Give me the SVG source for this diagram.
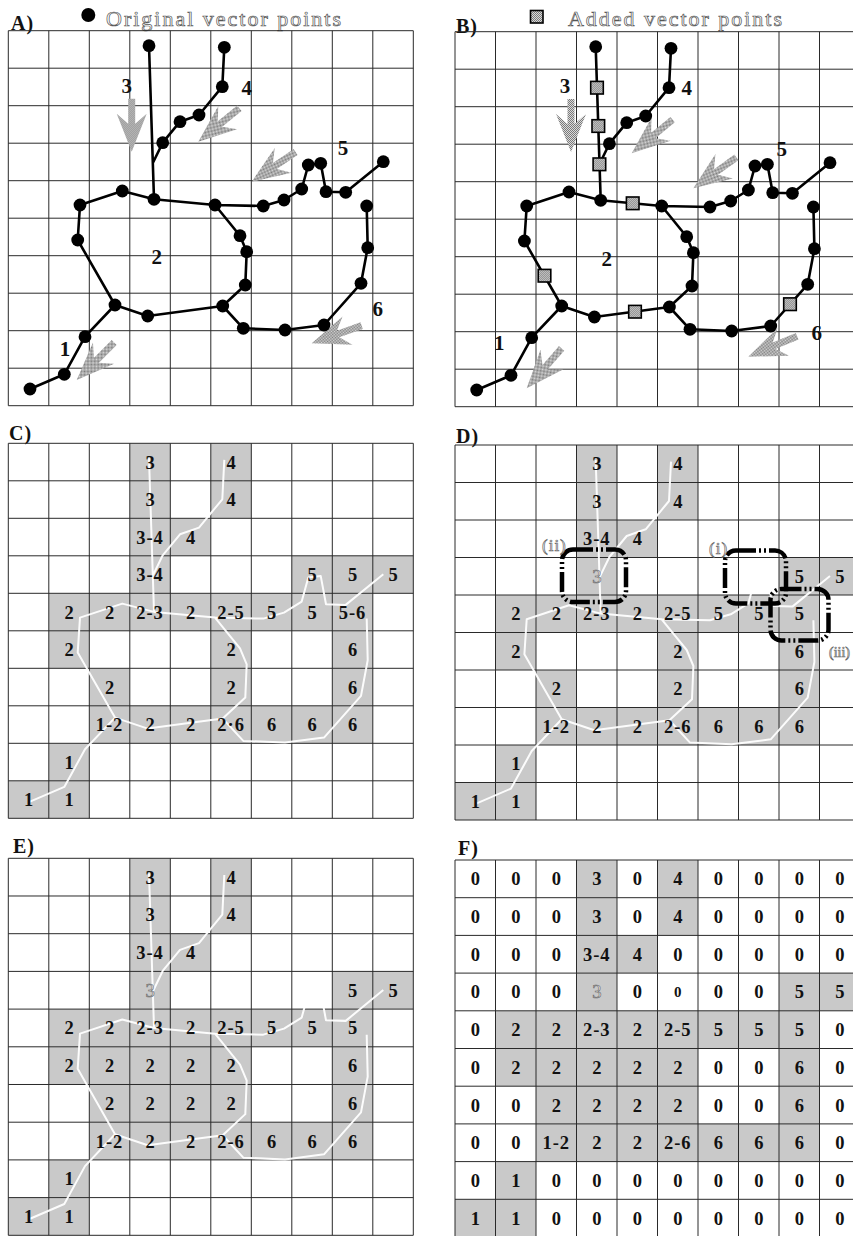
<svg xmlns="http://www.w3.org/2000/svg" xmlns:xlink="http://www.w3.org/1999/xlink" width="853" height="1236" viewBox="0 0 853 1236">
<style>
.bg{fill:#fff}
.grid{fill:none;stroke:#2a2a2a;stroke-width:1}
.sh{fill:#c9c9c9}
.t{font-family:"Liberation Serif",serif;font-weight:bold;font-size:18.5px;text-anchor:middle;fill:#111}
.tw{letter-spacing:1px}
.hol{font-family:"Liberation Serif",serif;font-size:18.5px;text-anchor:middle;fill:#e8e8e8;stroke:#666;stroke-width:0.6}
.rom{font-family:"Liberation Serif",serif;font-size:17px;fill:#fff;stroke:#666;stroke-width:0.7;letter-spacing:1px}
.lbl{font-family:"Liberation Serif",serif;font-weight:bold;font-size:20px;fill:#111;letter-spacing:1px}
.num{font-family:"Liberation Serif",serif;font-weight:bold;font-size:21px;text-anchor:middle;fill:#111}
.net{fill:none;stroke:#000;stroke-width:2.6;stroke-linejoin:round}
.wnet{fill:none;stroke:#fff;stroke-width:2;stroke-linejoin:round;opacity:0.95}
.dot{fill:#000}
.sq{fill:url(#dith);stroke:#000;stroke-width:1.6}
.arr{fill:url(#dith)}
.box{fill:none;stroke:#000;stroke-width:4.5;stroke-dasharray:20 3 2 3 2 3}
.legend{font-family:"Liberation Serif",serif;font-size:22px;fill:#fff;stroke:#555;stroke-width:0.7}
</style>
<defs>
<pattern id="dith" width="2" height="2" patternUnits="userSpaceOnUse"><rect width="2" height="2" fill="#dadada"/><rect width="1" height="1" fill="#7a7a7a"/><rect x="1" y="1" width="1" height="1" fill="#7a7a7a"/></pattern>
<path id="gridA" d="M0,0V375M40.5,0V375M81,0V375M121.5,0V375M162,0V375M202.5,0V375M243,0V375M283.5,0V375M324,0V375M364.5,0V375M405,0V375M0,0H405M0,37.5H405M0,75H405M0,112.5H405M0,150H405M0,187.5H405M0,225H405M0,262.5H405M0,300H405M0,337.5H405M0,375H405"/>
<path id="gridE" d="M0,0V377M40.5,0V377M81,0V377M121.5,0V377M162,0V377M202.5,0V377M243,0V377M283.5,0V377M324,0V377M364.5,0V377M405,0V377M0,0H405M0,37.7H405M0,75.4H405M0,113.1H405M0,150.8H405M0,188.5H405M0,226.2H405M0,263.9H405M0,301.6H405M0,339.3H405M0,377H405"/>
<path id="netp" d="M21.7,358.3 L56,343.6 L76.7,306 L106.7,274.3 L69.4,209.3 L71.7,174.3 L114,160.3 L145.7,168.6 L206.7,174.3 L231.7,205 L238.4,221 L237,254.3 L214.4,275.3 L139.4,285.3 L106.7,274.3 M140.7,15 L145.7,168.6 M216,16.6 L214,56 L190.7,84.3 L171.7,91 L154.4,112 L144.4,132.6 M206.7,174.3 L255,175.3 L275.7,169.3 L293.4,158.3 L300,134.3 L312.4,132.6 L317.7,161 L337.4,161.6 L375,131 M214.4,275.3 L235,297.6 L276.7,299.3 L315.7,294.3 L352.7,252.6 L359.4,217 L358.4,175.3"/>
<polygon id="arrow" points="0,0 -38,-15 -28,-3.5 -53,-3.5 -53,3.5 -28,3.5 -38,15"/>
<g id="dots" class="dot">
<circle cx="140.7" cy="15" r="6.4"/><circle cx="216" cy="16.6" r="6.4"/><circle cx="214" cy="56" r="6.4"/><circle cx="190.7" cy="84.3" r="6.4"/><circle cx="171.7" cy="91" r="6.4"/><circle cx="154.4" cy="112" r="6.4"/><circle cx="114" cy="160.3" r="6.4"/><circle cx="145.7" cy="168.6" r="6.4"/><circle cx="71.7" cy="174.3" r="6.4"/><circle cx="206.7" cy="174.3" r="6.4"/><circle cx="255" cy="175.3" r="6.4"/><circle cx="275.7" cy="169.3" r="6.4"/><circle cx="293.4" cy="158.3" r="6.4"/><circle cx="300" cy="134.3" r="6.4"/><circle cx="312.4" cy="132.6" r="6.4"/><circle cx="317.7" cy="161" r="6.4"/><circle cx="337.4" cy="161.6" r="6.4"/><circle cx="375" cy="131" r="6.4"/><circle cx="358.4" cy="175.3" r="6.4"/><circle cx="69.4" cy="209.3" r="6.4"/><circle cx="106.7" cy="274.3" r="6.4"/><circle cx="76.7" cy="306" r="6.4"/><circle cx="56" cy="343.6" r="6.4"/><circle cx="21.7" cy="358.3" r="6.4"/><circle cx="139.4" cy="285.3" r="6.4"/><circle cx="214.4" cy="275.3" r="6.4"/><circle cx="237" cy="254.3" r="6.4"/><circle cx="238.4" cy="221" r="6.4"/><circle cx="231.7" cy="205" r="6.4"/><circle cx="235" cy="297.6" r="6.4"/><circle cx="276.7" cy="299.3" r="6.4"/><circle cx="315.7" cy="294.3" r="6.4"/><circle cx="352.7" cy="252.6" r="6.4"/><circle cx="359.4" cy="217" r="6.4"/>
</g>
</defs>
<rect class="bg" x="0" y="0" width="853" height="1236"/>

<!-- Panel A -->
<g id="panelA">
<text class="lbl" x="11" y="30">A)</text>
<circle class="dot" cx="88.3" cy="15" r="7"/>
<text class="legend" x="106" y="26" textLength="235" lengthAdjust="spacing">Original vector points</text>
<g transform="translate(8.3,30.7)">
<use href="#gridA" class="grid"/>
<g id="arrowsA" class="arr">
<use href="#arrow" transform="translate(123.4,121) rotate(90)"/>
<use href="#arrow" transform="translate(190,111) rotate(140.8)"/>
<use href="#arrow" transform="translate(243.4,151) rotate(145.9)"/>
<use href="#arrow" transform="translate(68.4,349.3) rotate(135)"/>
<use href="#arrow" transform="translate(303.4,312.6) rotate(160.5)"/>
</g>
<g id="connectorsA"><use href="#netp" class="net"/></g>
<g id="pointsA"><use href="#dots"/></g>
<text class="num" x="118.4" y="62.5">3</text>
<text class="num" x="238.4" y="64.5">4</text>
<text class="num" x="334.7" y="124.5">5</text>
<text class="num" x="148.4" y="233.5">2</text>
<text class="num" x="369.4" y="285.5">6</text>
<text class="num" x="56.7" y="325.5">1</text>
</g>
</g>

<!-- Panel B -->
<g id="panelB">
<text class="lbl" x="456" y="33">B)</text>
<rect class="sq" x="530.5" y="10.5" width="12.5" height="12.5"/>
<text class="legend" x="568" y="26" textLength="214" lengthAdjust="spacing">Added vector points</text>
<g transform="translate(455,31.7)">
<use href="#gridA" class="grid"/>
<g id="arrowsB" class="arr">
<use href="#arrow" transform="translate(116,120.3) rotate(90)"/>
<use href="#arrow" transform="translate(176.7,121.6) rotate(140.6)"/>
<use href="#arrow" transform="translate(238.3,156.6) rotate(144.4)"/>
<use href="#arrow" transform="translate(71.7,356.6) rotate(131.2)"/>
<use href="#arrow" transform="translate(293.3,325) rotate(157.2)"/>
</g>
<g id="connectorsB"><use href="#netp" class="net"/></g>
<g id="pointsB"><use href="#dots"/>
<rect class="sq" x="135.7" y="49.7" width="12.6" height="12.6"/>
<rect class="sq" x="137" y="88" width="12.6" height="12.6"/>
<rect class="sq" x="138.1" y="126.3" width="12.6" height="12.6"/>
<rect class="sq" x="171.4" y="165.3" width="12.6" height="12.6"/>
<rect class="sq" x="83.2" y="237.7" width="12.6" height="12.6"/>
<rect class="sq" x="173.7" y="273.7" width="12.6" height="12.6"/>
<rect class="sq" x="328.7" y="266.2" width="12.6" height="12.6"/>
</g>
<text class="num" x="110" y="61.5">3</text>
<text class="num" x="231.7" y="63.5">4</text>
<text class="num" x="326.7" y="124.5">5</text>
<text class="num" x="151.7" y="234.5">2</text>
<text class="num" x="361.7" y="308.5">6</text>
<text class="num" x="44.3" y="318.5">1</text>
</g>
</g>

<!-- Panel C -->
<g id="panelC">
<text class="lbl" x="9" y="440">C)</text>
<g transform="translate(8.3,443.3)">
<g class="sh">
<rect x="121.5" y="0" width="40.5" height="37.5"/><rect x="202.5" y="0" width="40.5" height="37.5"/>
<rect x="121.5" y="37.5" width="40.5" height="37.5"/><rect x="202.5" y="37.5" width="40.5" height="37.5"/>
<rect x="121.5" y="75" width="81" height="37.5"/>
<rect x="121.5" y="112.5" width="40.5" height="37.5"/><rect x="283.5" y="112.5" width="121.5" height="37.5"/>
<rect x="40.5" y="150" width="324" height="37.5"/>
<rect x="40.5" y="187.5" width="40.5" height="37.5"/><rect x="202.5" y="187.5" width="40.5" height="37.5"/><rect x="324" y="187.5" width="40.5" height="37.5"/>
<rect x="81" y="225" width="40.5" height="37.5"/><rect x="202.5" y="225" width="40.5" height="37.5"/><rect x="324" y="225" width="40.5" height="37.5"/>
<rect x="81" y="262.5" width="283.5" height="37.5"/>
<rect x="40.5" y="300" width="40.5" height="37.5"/>
<rect x="0" y="337.5" width="81" height="37.5"/>
</g>
<use href="#gridA" class="grid"/>
<g id="connectorsC"><use href="#netp" class="wnet"/></g>
<g class="t">
<text x="141.75" y="25.25">3</text><text x="222.75" y="25.25">4</text>
<text x="141.75" y="62.75">3</text><text x="222.75" y="62.75">4</text>
<text class="tw" x="141.75" y="100.25">3-4</text><text x="182.25" y="100.25">4</text>
<text class="tw" x="141.75" y="137.75">3-4</text><text x="303.75" y="137.75">5</text><text x="344.25" y="137.75">5</text><text x="384.75" y="137.75">5</text>
<text x="60.75" y="175.25">2</text><text x="101.25" y="175.25">2</text><text class="tw" x="141.75" y="175.25">2-3</text><text x="182.25" y="175.25">2</text><text class="tw" x="222.75" y="175.25">2-5</text><text x="263.25" y="175.25">5</text><text x="303.75" y="175.25">5</text><text class="tw" x="344.25" y="175.25">5-6</text>
<text x="60.75" y="212.75">2</text><text x="222.75" y="212.75">2</text><text x="344.25" y="212.75">6</text>
<text x="101.25" y="250.25">2</text><text x="222.75" y="250.25">2</text><text x="344.25" y="250.25">6</text>
<text class="tw" x="101.25" y="287.75">1-2</text><text x="141.75" y="287.75">2</text><text x="182.25" y="287.75">2</text><text class="tw" x="222.75" y="287.75">2·6</text><text x="263.25" y="287.75">6</text><text x="303.75" y="287.75">6</text><text x="344.25" y="287.75">6</text>
<text x="60.75" y="325.25">1</text>
<text x="20.25" y="362.75">1</text><text x="60.75" y="362.75">1</text>
</g>
</g>
</g>

<!-- Panel D -->
<g id="panelD">
<text class="lbl" x="456" y="443">D)</text>
<g transform="translate(455,445)">
<g class="sh">
<rect x="121.5" y="0" width="40.5" height="37.5"/><rect x="202.5" y="0" width="40.5" height="37.5"/>
<rect x="121.5" y="37.5" width="40.5" height="37.5"/><rect x="202.5" y="37.5" width="40.5" height="37.5"/>
<rect x="121.5" y="75" width="81" height="37.5"/>
<rect x="121.5" y="112.5" width="40.5" height="37.5"/><rect x="324" y="112.5" width="81" height="37.5"/>
<rect x="40.5" y="150" width="324" height="37.5"/>
<rect x="40.5" y="187.5" width="40.5" height="37.5"/><rect x="202.5" y="187.5" width="40.5" height="37.5"/><rect x="324" y="187.5" width="40.5" height="37.5"/>
<rect x="81" y="225" width="40.5" height="37.5"/><rect x="202.5" y="225" width="40.5" height="37.5"/><rect x="324" y="225" width="40.5" height="37.5"/>
<rect x="81" y="262.5" width="283.5" height="37.5"/>
<rect x="40.5" y="300" width="40.5" height="37.5"/>
<rect x="0" y="337.5" width="81" height="37.5"/>
</g>
<use href="#gridA" class="grid"/>
<g id="connectorsD"><use href="#netp" class="wnet"/></g>
<g class="t">
<text x="141.75" y="25.25">3</text><text x="222.75" y="25.25">4</text>
<text x="141.75" y="62.75">3</text><text x="222.75" y="62.75">4</text>
<text class="tw" x="141.75" y="100.25">3-4</text><text x="182.25" y="100.25">4</text>
<text x="344.25" y="137.75">5</text><text x="384.75" y="137.75">5</text>
<text x="60.75" y="175.25">2</text><text x="101.25" y="175.25">2</text><text class="tw" x="141.75" y="175.25">2-3</text><text x="182.25" y="175.25">2</text><text class="tw" x="222.75" y="175.25">2-5</text><text x="263.25" y="175.25">5</text><text x="303.75" y="175.25">5</text><text x="344.25" y="175.25">5</text>
<text x="60.75" y="212.75">2</text><text x="222.75" y="212.75">2</text><text x="344.25" y="212.75">6</text>
<text x="101.25" y="250.25">2</text><text x="222.75" y="250.25">2</text><text x="344.25" y="250.25">6</text>
<text class="tw" x="101.25" y="287.75">1-2</text><text x="141.75" y="287.75">2</text><text x="182.25" y="287.75">2</text><text class="tw" x="222.75" y="287.75">2-6</text><text x="263.25" y="287.75">6</text><text x="303.75" y="287.75">6</text><text x="344.25" y="287.75">6</text>
<text x="60.75" y="325.25">1</text>
<text x="20.25" y="362.75">1</text><text x="60.75" y="362.75">1</text>
</g>
<text class="hol" x="141.75" y="137.75">3</text>
<g id="boxes">
<rect class="box" x="107" y="104.5" width="64" height="52.5" rx="11"/>
<rect class="box" x="270" y="105.5" width="61" height="53" rx="11"/>
<rect class="box" x="315.5" y="144" width="58" height="51.5" rx="11"/>
</g>
<text class="rom" x="87" y="106">(ii)</text>
<text class="rom" x="254" y="109">(i)</text>
<text class="rom" x="374" y="212" style="font-size:14px;letter-spacing:0">(iii)</text>
</g>
</g>

<!-- Panel E -->
<g id="panelE">
<text class="lbl" x="13" y="853">E)</text>
<g transform="translate(8.3,858.3)">
<g class="sh">
<rect x="121.5" y="0" width="40.5" height="37.7"/><rect x="202.5" y="0" width="40.5" height="37.7"/>
<rect x="121.5" y="37.7" width="40.5" height="37.7"/><rect x="202.5" y="37.7" width="40.5" height="37.7"/>
<rect x="121.5" y="75.4" width="81" height="37.7"/>
<rect x="121.5" y="113.1" width="40.5" height="37.7"/><rect x="324" y="113.1" width="81" height="37.7"/>
<rect x="40.5" y="150.8" width="324" height="37.7"/>
<rect x="40.5" y="188.5" width="202.5" height="37.7"/><rect x="324" y="188.5" width="40.5" height="37.7"/>
<rect x="81" y="226.2" width="162" height="37.7"/><rect x="324" y="226.2" width="40.5" height="37.7"/>
<rect x="81" y="263.9" width="283.5" height="37.7"/>
<rect x="40.5" y="301.6" width="40.5" height="37.7"/>
<rect x="0" y="339.3" width="81" height="37.7"/>
</g>
<use href="#gridE" class="grid"/>
<g id="connectorsE"><use href="#netp" class="wnet" transform="scale(1,1.006)"/></g>
<g class="t">
<text x="141.75" y="25.35">3</text><text x="222.75" y="25.35">4</text>
<text x="141.75" y="63.05">3</text><text x="222.75" y="63.05">4</text>
<text class="tw" x="141.75" y="100.75">3-4</text><text x="182.25" y="100.75">4</text>
<text x="344.25" y="138.45">5</text><text x="384.75" y="138.45">5</text>
<text x="60.75" y="176.15">2</text><text x="101.25" y="176.15">2</text><text class="tw" x="141.75" y="176.15">2-3</text><text x="182.25" y="176.15">2</text><text class="tw" x="222.75" y="176.15">2-5</text><text x="263.25" y="176.15">5</text><text x="303.75" y="176.15">5</text><text x="344.25" y="176.15">5</text>
<text x="60.75" y="213.85">2</text><text x="101.25" y="213.85">2</text><text x="141.75" y="213.85">2</text><text x="182.25" y="213.85">2</text><text x="222.75" y="213.85">2</text><text x="344.25" y="213.85">6</text>
<text x="101.25" y="251.55">2</text><text x="141.75" y="251.55">2</text><text x="182.25" y="251.55">2</text><text x="222.75" y="251.55">2</text><text x="344.25" y="251.55">6</text>
<text class="tw" x="101.25" y="289.25">1-2</text><text x="141.75" y="289.25">2</text><text x="182.25" y="289.25">2</text><text class="tw" x="222.75" y="289.25">2-6</text><text x="263.25" y="289.25">6</text><text x="303.75" y="289.25">6</text><text x="344.25" y="289.25">6</text>
<text x="60.75" y="326.95">1</text>
<text x="20.25" y="364.65">1</text><text x="60.75" y="364.65">1</text>
</g>
<text class="hol" x="141.75" y="138.45">3</text>
</g>
</g>

<!-- Panel F -->
<g id="panelF">
<text class="lbl" x="458" y="855">F)</text>
<g transform="translate(455,860)">
<g class="sh">
<rect x="121.5" y="0" width="40.5" height="37.7"/><rect x="202.5" y="0" width="40.5" height="37.7"/>
<rect x="121.5" y="37.7" width="40.5" height="37.7"/><rect x="202.5" y="37.7" width="40.5" height="37.7"/>
<rect x="121.5" y="75.4" width="81" height="37.7"/>
<rect x="121.5" y="113.1" width="40.5" height="37.7"/><rect x="324" y="113.1" width="81" height="37.7"/>
<rect x="40.5" y="150.8" width="324" height="37.7"/>
<rect x="40.5" y="188.5" width="202.5" height="37.7"/><rect x="324" y="188.5" width="40.5" height="37.7"/>
<rect x="81" y="226.2" width="162" height="37.7"/><rect x="324" y="226.2" width="40.5" height="37.7"/>
<rect x="81" y="263.9" width="283.5" height="37.7"/>
<rect x="40.5" y="301.6" width="40.5" height="37.7"/>
<rect x="0" y="339.3" width="81" height="37.7"/>
</g>
<use href="#gridE" class="grid"/>
<g class="t">
<text x="20.25" y="25.35">0</text><text x="60.75" y="25.35">0</text><text x="101.25" y="25.35">0</text><text x="141.75" y="25.35">3</text><text x="182.25" y="25.35">0</text><text x="222.75" y="25.35">4</text><text x="263.25" y="25.35">0</text><text x="303.75" y="25.35">0</text><text x="344.25" y="25.35">0</text><text x="384.75" y="25.35">0</text>
<text x="20.25" y="63.05">0</text><text x="60.75" y="63.05">0</text><text x="101.25" y="63.05">0</text><text x="141.75" y="63.05">3</text><text x="182.25" y="63.05">0</text><text x="222.75" y="63.05">4</text><text x="263.25" y="63.05">0</text><text x="303.75" y="63.05">0</text><text x="344.25" y="63.05">0</text><text x="384.75" y="63.05">0</text>
<text x="20.25" y="100.75">0</text><text x="60.75" y="100.75">0</text><text x="101.25" y="100.75">0</text><text class="tw" x="141.75" y="100.75">3-4</text><text x="182.25" y="100.75">4</text><text x="222.75" y="100.75">0</text><text x="263.25" y="100.75">0</text><text x="303.75" y="100.75">0</text><text x="344.25" y="100.75">0</text><text x="384.75" y="100.75">0</text>
<text x="20.25" y="138.45">0</text><text x="60.75" y="138.45">0</text><text x="101.25" y="138.45">0</text><text x="182.25" y="138.45">0</text><text x="222.75" y="137" style="font-size:15px">0</text><text x="263.25" y="138.45">0</text><text x="303.75" y="138.45">0</text><text x="344.25" y="138.45">5</text><text x="384.75" y="138.45">5</text>
<text x="20.25" y="176.15">0</text><text x="60.75" y="176.15">2</text><text x="101.25" y="176.15">2</text><text class="tw" x="141.75" y="176.15">2-3</text><text x="182.25" y="176.15">2</text><text class="tw" x="222.75" y="176.15">2-5</text><text x="263.25" y="176.15">5</text><text x="303.75" y="176.15">5</text><text x="344.25" y="176.15">5</text><text x="384.75" y="176.15">0</text>
<text x="20.25" y="213.85">0</text><text x="60.75" y="213.85">2</text><text x="101.25" y="213.85">2</text><text x="141.75" y="213.85">2</text><text x="182.25" y="213.85">2</text><text x="222.75" y="213.85">2</text><text x="263.25" y="213.85">0</text><text x="303.75" y="213.85">0</text><text x="344.25" y="213.85">6</text><text x="384.75" y="213.85">0</text>
<text x="20.25" y="251.55">0</text><text x="60.75" y="251.55">0</text><text x="101.25" y="251.55">2</text><text x="141.75" y="251.55">2</text><text x="182.25" y="251.55">2</text><text x="222.75" y="251.55">2</text><text x="263.25" y="251.55">0</text><text x="303.75" y="251.55">0</text><text x="344.25" y="251.55">6</text><text x="384.75" y="251.55">0</text>
<text x="20.25" y="289.25">0</text><text x="60.75" y="289.25">0</text><text class="tw" x="101.25" y="289.25">1-2</text><text x="141.75" y="289.25">2</text><text x="182.25" y="289.25">2</text><text class="tw" x="222.75" y="289.25">2-6</text><text x="263.25" y="289.25">6</text><text x="303.75" y="289.25">6</text><text x="344.25" y="289.25">6</text><text x="384.75" y="289.25">0</text>
<text x="20.25" y="326.95">0</text><text x="60.75" y="326.95">1</text><text x="101.25" y="326.95">0</text><text x="141.75" y="326.95">0</text><text x="182.25" y="326.95">0</text><text x="222.75" y="326.95">0</text><text x="263.25" y="326.95">0</text><text x="303.75" y="326.95">0</text><text x="344.25" y="326.95">0</text><text x="384.75" y="326.95">0</text>
<text x="20.25" y="364.65">1</text><text x="60.75" y="364.65">1</text><text x="101.25" y="364.65">0</text><text x="141.75" y="364.65">0</text><text x="182.25" y="364.65">0</text><text x="222.75" y="364.65">0</text><text x="263.25" y="364.65">0</text><text x="303.75" y="364.65">0</text><text x="344.25" y="364.65">0</text><text x="384.75" y="364.65">0</text>
</g>
<text class="hol" x="141.75" y="138.45">3</text>
</g>
</g>
</svg>
